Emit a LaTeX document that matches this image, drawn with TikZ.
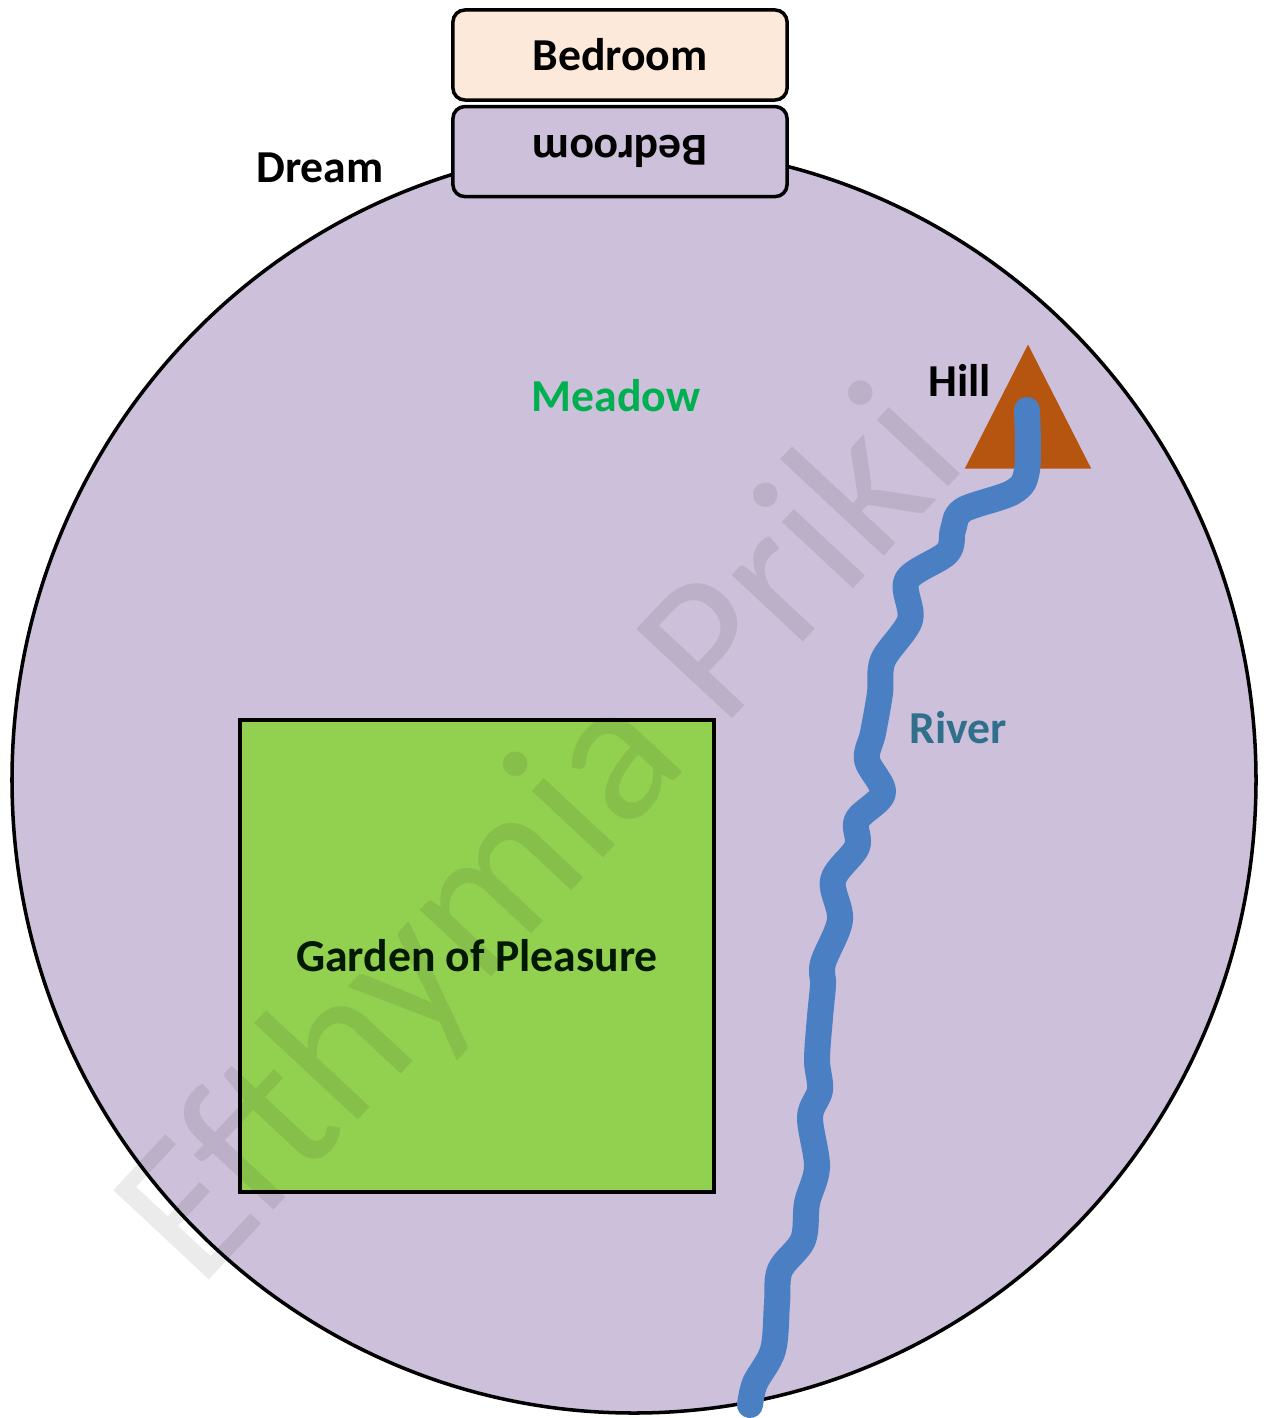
\documentclass[tikz,border=0pt]{standalone}
\usepackage{fontspec}
\setmainfont{Carlito}
\usepackage{xcolor}
\usepackage{tikz}
\usetikzlibrary{positioning, calc, shapes.geometric}
\definecolor{DreamLav}{HTML}{CCC0DA}
\definecolor{BedPeach}{HTML}{FCE9DA}
\definecolor{GardenGreen}{HTML}{92D050}
\definecolor{MeadowGreen}{HTML}{00B050}
\definecolor{HillBrown}{HTML}{B5550F}
\definecolor{RiverBlue}{HTML}{4A7FC4}
\definecolor{RiverText}{HTML}{31708C}

\begin{document}
\begin{tikzpicture}[x=0.01cm, y=-0.01cm, font=\fontsize{13}{15}\selectfont\bfseries,
  roombox/.style={draw=black, line width=1pt, rounded corners=0.12cm,
     minimum width=3.34cm, minimum height=0.9cm, inner sep=0pt},
  label/.style={inner sep=1pt}]
  \useasboundingbox (0,0) rectangle (1267,1418);
  % dream world
  \draw[black, line width=1pt, fill=DreamLav] (634,780) ellipse [x radius=622, y radius=633];
  % bedroom and its mirror
  \node[roombox, fill=BedPeach] (bed) at (620,55) {Bedroom};
  \node[roombox, fill=DreamLav, below=0.03cm of bed] (bedinv) {\rotatebox{180}{Bedroom}};
  \node[label, anchor=east] (dream) at (388,168) {Dream};
  \node[label, text=MeadowGreen] (meadow) at (616,396) {Meadow};
  % hill
  \node[isosceles triangle, isosceles triangle apex angle=54, shape border rotate=90,
     fill=HillBrown, minimum height=1.24cm, inner sep=0pt, anchor=apex] (hill) at (1028,343) {};
  \node[label, anchor=east] (hilltxt) at (995,380) {Hill};
  % garden
  \node[draw=black, line width=1pt, fill=GardenGreen, minimum width=4.74cm, minimum height=4.72cm,
     text=black!90!green] (garden) at (477,956) {Garden of Pleasure};
  % river from the hill
  \draw[RiverBlue, line width=7.4pt, line cap=round, line join=round]
     plot[smooth, tension=0.55] coordinates {(1027,410) (1027,470) (1013,492) (963,510) (953,530)
     (947,553) (907,580) (910,620) (883,660) (880,693) (873,733) (867,760) (883,793)
     (857,820) (857,847) (833,880) (840,920) (823,963) (823,985) (820,1017) (817,1060)
     (820,1090) (810,1117) (817,1167) (807,1203) (803,1240) (780,1270) (777,1303)
     (773,1350) (755,1383) (750,1405)};
  \node[label, text=RiverText] (river) at (958,728) {River};
  % watermark
  \node[rotate=47, text=black, opacity=0.08, font=\fontsize{58}{66}\selectfont] (mark) at (545,840) {Efthymia Priki};
\end{tikzpicture}
\end{document}
